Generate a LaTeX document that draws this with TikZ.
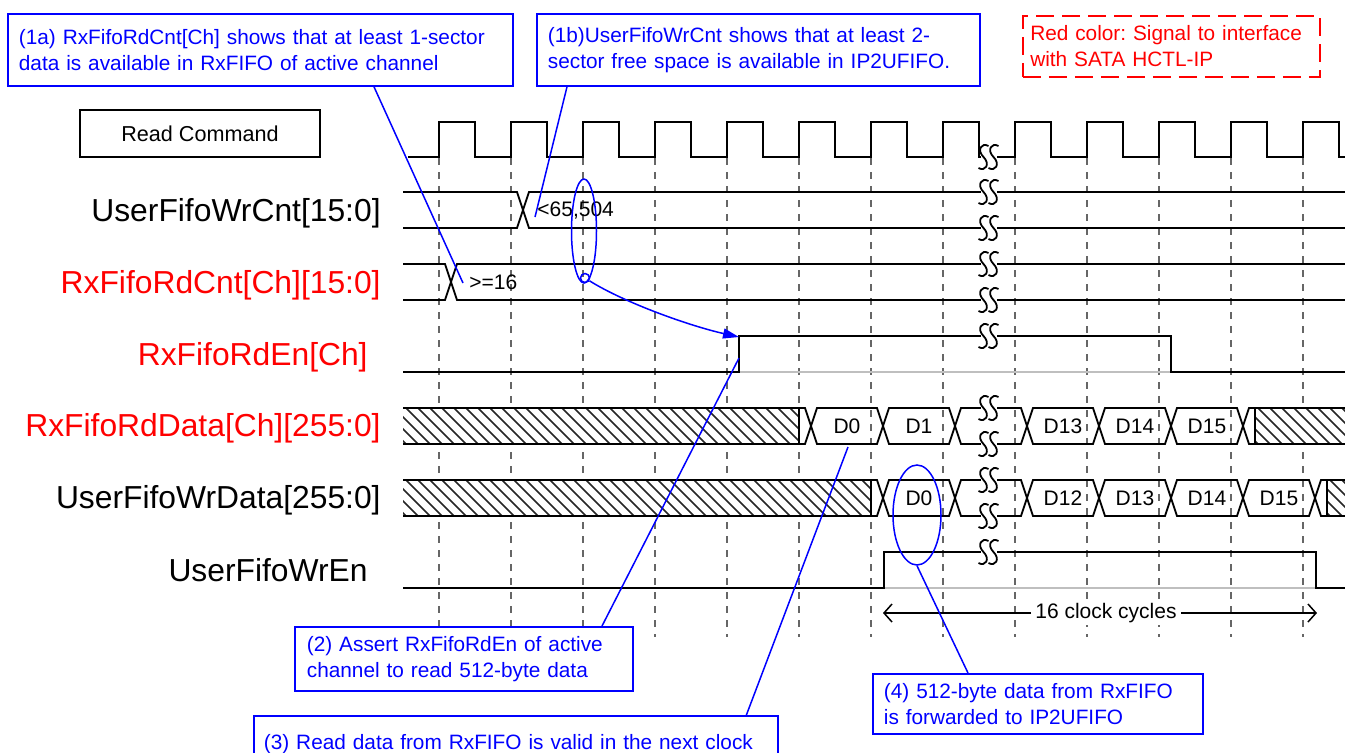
\documentclass[tikz,border=0pt]{standalone}
\usepackage{fontspec}
\setmainfont{Liberation Sans}
\usepackage{tikz}
\usetikzlibrary{arrows.meta,shapes.geometric}
\frenchspacing
\tikzstyle{wave}=[draw=black, line width=0.9pt]
\tikzstyle{guide}=[draw=black!60, line width=0.6pt, dash pattern=on 3.5pt off 3.5pt]
\tikzstyle{hatchline}=[draw=black!85, line width=0.75pt]
\tikzstyle{note}=[draw=blue, line width=0.9pt, fill=white, text=blue, font=\fontsize{10.4}{13}\selectfont, align=left, anchor=north west, inner ysep=0pt]
\tikzstyle{link}=[draw=blue, line width=0.75pt]
\tikzstyle{arrow}=[link, -{Triangle[length=8pt,width=5pt]}]
\tikzstyle{signame}=[font=\fontsize{15.9}{19}\selectfont, anchor=base east, inner sep=0pt]
\tikzstyle{val}=[font=\fontsize{10.5}{13}\selectfont, inner sep=0pt]
\tikzstyle{span}=[draw=black, line width=0.75pt, -{Straight Barb[length=4pt,width=9pt]}]

\newcommand{\brk}[2]{%
	\begin{scope}[shift={(#1,#2)}]
		\fill[white] (-8,-4) rectangle (8,4);
		\foreach \s in {-5,5}
			\draw[wave] (\s+5,-11) .. controls (\s-2,-15) and (\s-7,-7) .. (\s,0) .. controls (\s+7,7) and (\s+2,15) .. (\s-5,11);
	\end{scope}}
\newcommand{\cell}[5]{%
	\draw[wave] (#3,#2) -- (#3+6,#2-18) -- (#4-6,#2-18) -- (#4,#2) -- (#4-6,#2+18) -- (#3+6,#2+18) -- cycle;
	\node[val] (#1) at ({(#3+#4)/2},#2) {#5};}
\newcommand{\hatch}[3]{%
	\begin{scope}
		\clip (#2,#1-18) rectangle (#3,#1+18);
		\fill[white] (#2,#1-18) rectangle (#3,#1+18);
		\foreach \h in {370,382,...,1350}
			\draw[hatchline] (\h,#1-18) -- (\h+36,#1+18);
	\end{scope}}

\begin{document}
\begin{tikzpicture}[x=0.5pt,y=-0.5pt]
	\useasboundingbox (0,0) rectangle (1345,752);
	\foreach \k in {0,...,12}
		\draw[guide] ({439+72*\k},158) -- ({439+72*\k},637);
	\node[draw, line width=0.75pt, minimum width=120pt, minimum height=23.5pt, font=\fontsize{10.8}{13}\selectfont] (rc) at (200,133.5) {Read Command};
	\draw[wave] (408,157) \foreach \k in {0,...,12} { -- ({439+72*\k},157) -- ({439+72*\k},122) -- ({475+72*\k},122) -- ({475+72*\k},157) } -- (1345,157);

	\node[signame] (lwc) at (381,221) {UserFifoWrCnt[15:0]};
	\node[signame, text=red] (lrc) at (381,293) {RxFifoRdCnt[Ch][15:0]};
	\node[signame, text=red] (lre) at (368,365) {RxFifoRdEn[Ch]};
	\node[signame, text=red] (lrd) at (381,436) {RxFifoRdData[Ch][255:0]};
	\node[signame] (lwd) at (381,508) {UserFifoWrData[255:0]};
	\node[signame] (lwe) at (368,581) {UserFifoWrEn};

	\draw[wave] (403,192) -- (517,192) -- (523,210) -- (517,228) -- (403,228);
	\draw[wave] (1345,192) -- (529,192) -- (523,210) -- (529,228) -- (1345,228);
	\node[val, anchor=west] (vwc) at (537,210) {<65,504};
	\draw[wave] (403,264) -- (445,264) -- (451,282) -- (445,300) -- (403,300);
	\draw[wave] (1345,264) -- (457,264) -- (451,282) -- (457,300) -- (1345,300);
	\node[val, anchor=west] (vrc) at (469,282) {>=16};

	\draw[black!25, line width=0.6pt] (739,372) -- (1171,372);
	\draw[wave] (403,372) -- (739,372) -- (739,336) -- (1171,336) -- (1171,372) -- (1345,372);

	\hatch{426}{403}{799}
	\hatch{426}{1255}{1345}
	\draw[wave] (403,408) -- (805,408) -- (811,426) -- (805,444) -- (403,444);
	\draw[wave] (799,408) -- (799,444);
	\cell{rd0}{426}{811}{883}{D0}
	\cell{rd1}{426}{883}{955}{D1}
	\cell{rdx}{426}{955}{1027}{}
	\cell{rd13}{426}{1027}{1099}{D13}
	\cell{rd14}{426}{1099}{1171}{D14}
	\cell{rd15}{426}{1171}{1243}{D15}
	\draw[wave] (1345,408) -- (1249,408) -- (1243,426) -- (1249,444) -- (1345,444);
	\draw[wave] (1255,408) -- (1255,444);

	\hatch{498}{403}{871}
	\hatch{498}{1327}{1345}
	\draw[wave] (403,480) -- (877,480) -- (883,498) -- (877,516) -- (403,516);
	\draw[wave] (871,480) -- (871,516);
	\cell{wd0}{498}{883}{955}{D0}
	\cell{wdx}{498}{955}{1027}{}
	\cell{wd12}{498}{1027}{1099}{D12}
	\cell{wd13}{498}{1099}{1171}{D13}
	\cell{wd14}{498}{1171}{1243}{D14}
	\cell{wd15}{498}{1243}{1315}{D15}
	\draw[wave] (1345,480) -- (1321,480) -- (1315,498) -- (1321,516) -- (1345,516);
	\draw[wave] (1327,480) -- (1327,516);

	\draw[black!25, line width=0.6pt] (884,588) -- (1316,588);
	\draw[wave] (403,588) -- (884,588) -- (884,552) -- (1316,552) -- (1316,588) -- (1345,588);

	\foreach \y in {157,192,228,264,300,336,408,444,480,516,552} {\brk{988.5}{\y}}

	\coordinate (cyl) at (883,613);
	\coordinate (cyr) at (1317,613);
	\node[val, fill=white, inner xsep=2pt, inner ysep=1pt] (cyc) at (1106,613) {16 clock cycles};
	\draw[span] (cyc.west) -- (cyl);
	\draw[span] (cyc.east) -- (cyr);

	\node[note, text width=241.5pt, inner xsep=5.5pt, minimum height=36pt] (n1a) at (7,13) {(1a) RxFifoRdCnt[Ch] shows that at least 1-sector\\data is available in RxFIFO of active channel};
	\node[note, text width=210.5pt, inner xsep=5.5pt, minimum height=36pt] (n1b) at (536,13) {(1b)UserFifoWrCnt shows that at least 2-\\sector free space is available in IP2UFIFO.};
	\node[note, draw=red, text=red, line width=0.75pt, dash pattern=on 9pt off 4pt, text width=141pt, inner xsep=3.75pt, minimum height=30.5pt] (lgd) at (1022,15) {Red color: Signal to interface\\with SATA HCTL-IP};
	\coordinate (p1a) at (463,283);
	\coordinate (p1b) at (535,217);
	\draw[link] (n1a.south west) ++(367,0) -- (p1a);
	\draw[link] (n1b.south west) ++(31,0) -- (p1b);
	\node[ellipse, draw=blue, line width=0.75pt, minimum width=12.5pt, minimum height=52pt, inner sep=0pt] (e1b) at (584,231) {};
	\node[circle, draw=blue, line width=0.75pt, minimum size=4.5pt, inner sep=0pt] (o1b) at (585,278) {};
	\coordinate (p2r) at (739,337);
	\draw[arrow] (o1b) .. controls (625,303) and (690,326) .. (p2r);

	\node[note, text width=157pt, inner xsep=6pt, minimum height=32pt] (n2) at (294,626) {(2) Assert RxFifoRdEn of active\\channel to read 512-byte data};
	\coordinate (p2) at (739,358);
	\draw[link] (n2.north west) ++(308,0) -- (p2);

	\node[note, draw=none, text width=252pt, inner xsep=4.5pt, minimum height=18pt, text height=16.5pt, text depth=1.5pt] (n3) at (254,716) {(3) Read data from RxFIFO is valid in the next clock};
	\draw[link, line width=0.9pt] (n3.south west) -- (n3.north west) -- (n3.north east) -- (n3.south east);
	\coordinate (p3) at (848,447);
	\draw[link] (n3.north west) ++(492,0) -- (p3);

	\node[ellipse, draw=blue, line width=0.75pt, minimum width=24pt, minimum height=50pt, inner sep=0pt] (e4) at (917,515) {};
	\node[note, text width=154pt, inner xsep=5.5pt, minimum height=30pt] (n4) at (872,673) {(4) 512-byte data from RxFIFO\\is forwarded to IP2UFIFO};
	\draw[link] (n4.north west) ++(96,0) -- (e4.south);
\end{tikzpicture}
\end{document}
